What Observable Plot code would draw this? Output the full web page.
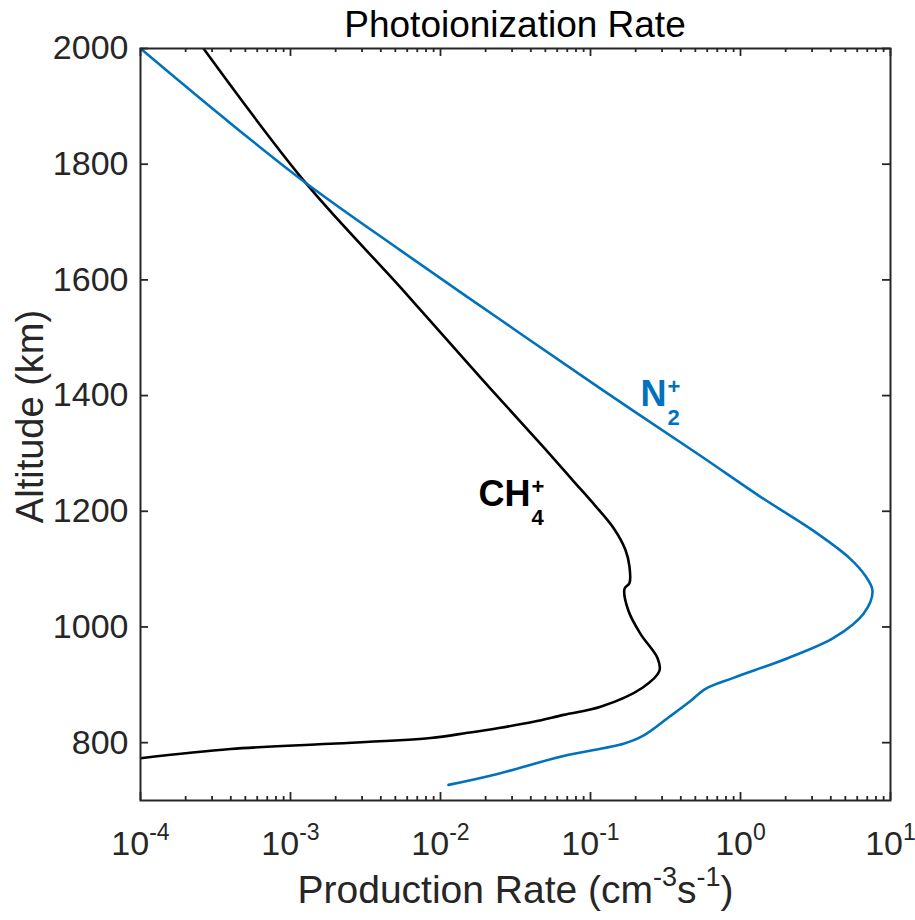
<!DOCTYPE html>
<html><head><meta charset="utf-8">
<script src="https://cdn.jsdelivr.net/npm/d3@7"></script>
<script src="https://cdn.jsdelivr.net/npm/@observablehq/plot@0.6"></script>
<style>
body{margin:0;background:#fff;font-family:"Liberation Sans",Arial,Helvetica,sans-serif;}
#wrap{width:915px;height:920px;position:relative;overflow:hidden;}
#title{height:40px;position:relative;}
#title span{position:absolute;left:140px;width:750px;text-align:center;top:7px;font-size:37px;line-height:36px;color:#000;white-space:nowrap;}
#chart svg{display:block;}
</style></head><body>
<div id="wrap"><div id="title"><span>Photoionization Rate</span></div><div id="chart"></div></div>
<script>
// N2+ photoionization rate profile (altitude km, rate cm^-3 s^-1)
const n2Alt  = [2000, 1882, 1768, 1651, 1531, 1412, 1296, 1225, 1166, 1119, 1088, 1062, 1023, 981, 946, 912, 893, 872, 846, 812, 798, 777, 746, 727];
const n2Rate = [1.0e-4, 3.52e-4, 1.259e-3, 5.41e-3, 0.0251, 0.1166, 0.541, 1.359, 3.07, 5.33, 6.81, 7.59, 6.61, 4.17, 2.06, 0.898, 0.585, 0.464, 0.341, 0.225, 0.166, 0.0661, 0.0240, 0.0113];
// CH4+ photoionization rate profile
const ch4Alt  = [2000, 1768, 1587, 1431, 1311, 1254, 1209, 1171, 1133, 1104, 1076, 1066, 1028, 988, 946, 924, 895, 862, 848, 836, 825, 817, 808, 798, 789, 773];
const ch4Rate = [2.63e-4, 1.259e-3, 5.41e-3, 0.0185, 0.0486, 0.0759, 0.108, 0.1424, 0.1711, 0.182, 0.182, 0.1686, 0.179, 0.2154, 0.280, 0.288, 0.222, 0.1166, 0.0661, 0.0417, 0.0240, 0.0151, 0.00858, 0.00185, 3.98e-4, 1.0e-4];
// axes
const yTicks = [800, 1000, 1200, 1400, 1600, 1800, 2000];
const xMajor = [1e-4, 1e-3, 1e-2, 1e-1, 1, 10];
const xTickLabels = ["10^{-4}", "10^{-3}", "10^{-2}", "10^{-1}", "10^{0}", "10^{1}"];
const xMinor = [];
for (const dec of xMajor.slice(0, -1)) for (let m = 2; m <= 9; m++) xMinor.push(m * dec);
// annotations
const labelNames = ["CH", "N"];
const labelSubs = ["4", "2"];
const labelSups = ["+", "+"];
const labelX = [0.0398, 0.321];
const labelY = [1209, 1382];
const labelColors = ["#000000", "#0072BD"];
const xTitle = "Production Rate (cm^{-3}s^{-1})";
const yTitle = "Altitude (km)";

const n2 = n2Alt.map((a, i) => ({alt: a, rate: n2Rate[i]}));
const ch4 = ch4Alt.map((a, i) => ({alt: a, rate: ch4Rate[i]}));
const labels = labelNames.map((n, i) => ({name: n, sub: labelSubs[i], sup: labelSups[i], x: labelX[i], y: labelY[i], color: labelColors[i]}));

const axisColor = "#262626";
const W = 915, H = 880, mL = 140, mR = 25, mT = 8, mB = 120;
const fw = W - mL - mR, fh = H - mT - mB;
const majorLen = 8, minorLen = 4;

const labelMarks = labels.flatMap(l => [
  Plot.text([l], {x: "x", y: "y", text: "name", textAnchor: "end", lineAnchor: "bottom", fontSize: 36, fontWeight: "bold", fill: l.color}),
  Plot.text([l], {x: "x", y: "y", text: "sub", textAnchor: "start", lineAnchor: "bottom", dx: 1, dy: 19, fontSize: 22, fontWeight: "bold", fill: l.color}),
  Plot.text([l], {x: "x", y: "y", text: "sup", textAnchor: "start", lineAnchor: "bottom", dx: 1, dy: -12, fontSize: 22, fontWeight: "bold", fill: l.color})
]);

const plot = Plot.plot({
  width: W, height: H, marginLeft: mL, marginRight: mR, marginTop: mT, marginBottom: mB,
  style: {fontFamily: "Liberation Sans, Arial, Helvetica, sans-serif", color: axisColor, background: "#fff", overflow: "visible"},
  x: {type: "log", domain: [1e-4, 10], axis: null},
  y: {domain: [700, 2000], axis: null},
  marks: [
    Plot.line(ch4, {x: "rate", y: "alt", stroke: "#000000", strokeWidth: 2.6, curve: "catmull-rom", clip: true}),
    Plot.line(n2, {x: "rate", y: "alt", stroke: "#0072BD", strokeWidth: 2.6, curve: "catmull-rom", clip: true}),
    Plot.tickX(xMajor, {x: d => d, insetTop: fh - majorLen, stroke: axisColor, strokeWidth: 1.8}),
    Plot.tickX(xMajor, {x: d => d, insetBottom: fh - majorLen, stroke: axisColor, strokeWidth: 1.8}),
    Plot.tickX(xMinor, {x: d => d, insetTop: fh - minorLen, stroke: axisColor, strokeWidth: 1.8}),
    Plot.tickX(xMinor, {x: d => d, insetBottom: fh - minorLen, stroke: axisColor, strokeWidth: 1.8}),
    Plot.tickY(yTicks, {y: d => d, insetRight: fw - majorLen, stroke: axisColor, strokeWidth: 1.8}),
    Plot.tickY(yTicks, {y: d => d, insetLeft: fw - majorLen, stroke: axisColor, strokeWidth: 1.8}),
    Plot.frame({stroke: axisColor, strokeWidth: 2}),
    Plot.axisX(xMajor, {tickSize: 0, tickPadding: 30, fontSize: 34, label: null, tickFormat: d => xTickLabels[xMajor.indexOf(d)]}),
    Plot.axisY(yTicks, {tickSize: 0, tickPadding: 12, fontSize: 34, label: null, tickFormat: d => String(d)}),
    Plot.text([xTitle], {text: d => d, frameAnchor: "bottom", textAnchor: "middle", dy: 102, lineAnchor: "bottom", fontSize: 39, fill: axisColor}),
    Plot.text([yTitle], {text: d => d, frameAnchor: "left", textAnchor: "middle", rotate: -90, dx: -98, dy: -8, lineAnchor: "bottom", fontSize: 38, fill: axisColor}),
    ...labelMarks
  ]
});
document.getElementById("chart").appendChild(plot);

// convert ^{...} markup to superscript tspans
d3.select(plot).selectAll("text").each(function() {
  const txt = this.textContent;
  if (!txt.includes("^{")) return;
  const holder = this.closest("[font-size]");
  const fs = holder ? parseFloat(holder.getAttribute("font-size")) : 34;
  const supSize = Math.round(fs * 0.68);
  const raise = Math.round(fs * 0.44);
  const sel = d3.select(this);
  const parts = txt.split(/\^\{([^}]*)\}/);
  sel.text(null);
  let raised = false;
  parts.forEach((p, i) => {
    if (p === "") return;
    const ts = sel.append("tspan").text(p);
    if (i % 2 === 1) {
      ts.attr("font-size", supSize);
      if (!raised) ts.attr("dy", -raise);
      raised = true;
    } else {
      if (raised) ts.attr("dy", raise);
      raised = false;
    }
  });
});
</script>
</body></html>
